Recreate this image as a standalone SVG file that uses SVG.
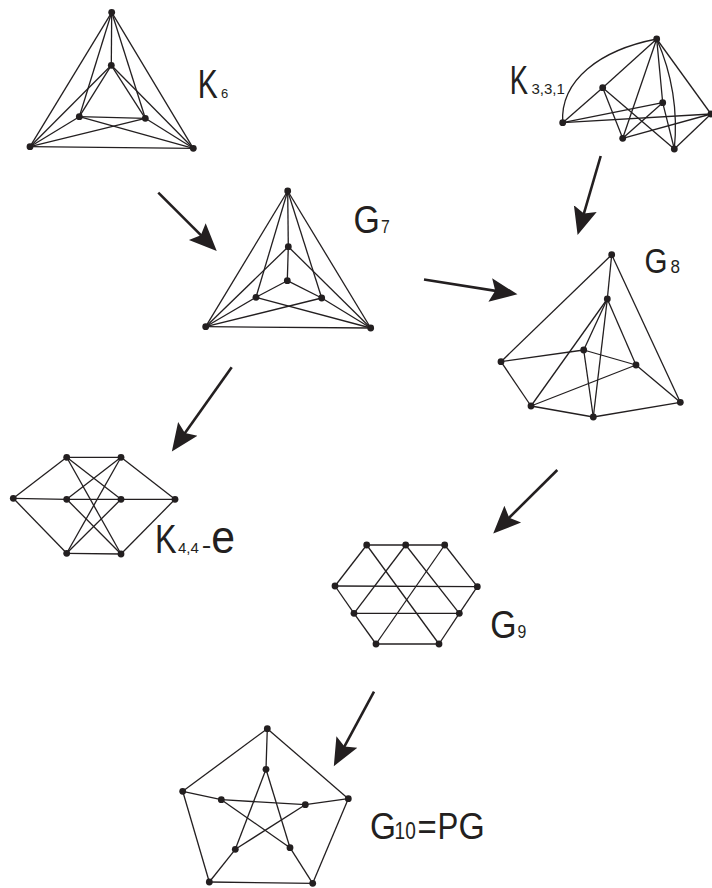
<svg xmlns="http://www.w3.org/2000/svg" width="712" height="888" viewBox="0 0 712 888">
<style>
.e{stroke:#231f20;stroke-width:1.3;fill:none}
.n{fill:#231f20}
.t{font-family:"Liberation Sans",Arial,sans-serif;fill:#231f20}
.a{stroke:#231f20;stroke-width:2.6;fill:none}
</style>
<defs>
<marker id="ah" markerUnits="userSpaceOnUse" markerWidth="30" markerHeight="30" viewBox="0 -12 24 24" refX="12" refY="0" orient="auto">
<path d="M0,-9.5 L22,0 L0,9.5 L4,0 Z" fill="#231f20"/>
</marker>
</defs>
<rect width="712" height="888" fill="#fff"/>

<g id="K6">
<g class="e">
<line x1="111.7" y1="12.3" x2="111.3" y2="65.3"/>
<line x1="111.7" y1="12.3" x2="79.3" y2="116.7"/>
<line x1="111.7" y1="12.3" x2="145.3" y2="118.3"/>
<line x1="111.7" y1="12.3" x2="30" y2="146.7"/>
<line x1="111.7" y1="12.3" x2="193.3" y2="148.3"/>
<line x1="111.3" y1="65.3" x2="79.3" y2="116.7"/>
<line x1="111.3" y1="65.3" x2="145.3" y2="118.3"/>
<line x1="111.3" y1="65.3" x2="30" y2="146.7"/>
<line x1="111.3" y1="65.3" x2="193.3" y2="148.3"/>
<line x1="79.3" y1="116.7" x2="145.3" y2="118.3"/>
<line x1="79.3" y1="116.7" x2="30" y2="146.7"/>
<line x1="79.3" y1="116.7" x2="193.3" y2="148.3"/>
<line x1="145.3" y1="118.3" x2="30" y2="146.7"/>
<line x1="145.3" y1="118.3" x2="193.3" y2="148.3"/>
<line x1="30" y1="146.7" x2="193.3" y2="148.3"/>
</g>
<g class="n">
<circle cx="111.7" cy="12.3" r="3.4"/><circle cx="111.3" cy="65.3" r="3.4"/>
<circle cx="79.3" cy="116.7" r="3.4"/><circle cx="145.3" cy="118.3" r="3.4"/>
<circle cx="30" cy="146.7" r="3.4"/><circle cx="193.3" cy="148.3" r="3.4"/>
</g>
<text class="t" font-size="41" transform="translate(197.8,97.7) scale(0.731,1)">K</text>
<text class="t" font-size="13" x="221" y="97.7">6</text>
</g>

<g id="K331">
<g class="e">
<path d="M562.7,122.7 C560,80 600,50 656.7,39"/>
<path d="M656.7,39 Q680,92 674.3,149"/>
<line x1="656.7" y1="39" x2="602.7" y2="87.7"/>
<line x1="656.7" y1="39" x2="662.7" y2="102.7"/>
<line x1="656.7" y1="39" x2="622.7" y2="138.3"/>
<line x1="656.7" y1="39" x2="711" y2="114"/>
<line x1="562.7" y1="122.7" x2="602.7" y2="87.7"/>
<line x1="562.7" y1="122.7" x2="662.7" y2="102.7"/>
<line x1="562.7" y1="122.7" x2="711" y2="114"/>
<line x1="622.7" y1="138.3" x2="602.7" y2="87.7"/>
<line x1="622.7" y1="138.3" x2="662.7" y2="102.7"/>
<line x1="622.7" y1="138.3" x2="711" y2="114"/>
<line x1="674.3" y1="149" x2="602.7" y2="87.7"/>
<line x1="674.3" y1="149" x2="662.7" y2="102.7"/>
<line x1="674.3" y1="149" x2="711" y2="114"/>
</g>
<g class="n">
<circle cx="656.7" cy="39" r="3.4"/><circle cx="602.7" cy="87.7" r="3.4"/>
<circle cx="662.7" cy="102.7" r="3.4"/><circle cx="562.7" cy="122.7" r="3.4"/>
<circle cx="622.7" cy="138.3" r="3.4"/><circle cx="674.3" cy="149" r="3.4"/>
<circle cx="711" cy="114" r="3.4"/>
</g>
<text class="t" font-size="41" transform="translate(509.7,94) scale(0.669,1)">K</text>
<text class="t" font-size="15" x="531.5" y="94">3,3,1</text>
</g>

<g id="G7">
<g class="e">
<line x1="287.7" y1="191" x2="288.3" y2="246.7"/>
<line x1="288.3" y1="246.7" x2="287.3" y2="280.7"/>
<line x1="287.7" y1="191" x2="256" y2="297.3"/>
<line x1="287.7" y1="191" x2="321.7" y2="298"/>
<line x1="287.7" y1="191" x2="205.7" y2="326.7"/>
<line x1="287.7" y1="191" x2="370.7" y2="328"/>
<line x1="288.3" y1="246.7" x2="205.7" y2="326.7"/>
<line x1="288.3" y1="246.7" x2="370.7" y2="328"/>
<line x1="287.3" y1="280.7" x2="256" y2="297.3"/>
<line x1="287.3" y1="280.7" x2="321.7" y2="298"/>
<line x1="256" y1="297.3" x2="370.7" y2="328"/>
<line x1="321.7" y1="298" x2="205.7" y2="326.7"/>
<line x1="256" y1="297.3" x2="205.7" y2="326.7"/>
<line x1="321.7" y1="298" x2="370.7" y2="328"/>
<line x1="205.7" y1="326.7" x2="370.7" y2="328"/>
</g>
<g class="n">
<circle cx="287.7" cy="191" r="3.4"/><circle cx="288.3" cy="246.7" r="3.4"/>
<circle cx="287.3" cy="280.7" r="3.4"/><circle cx="256" cy="297.3" r="3.4"/>
<circle cx="321.7" cy="298" r="3.4"/><circle cx="205.7" cy="326.7" r="3.4"/>
<circle cx="370.7" cy="328" r="3.4"/>
</g>
<text class="t" font-size="38" transform="translate(353.4,233) scale(0.89,1)">G</text>
<text class="t" font-size="18.5" transform="translate(380.9,233) scale(0.855,1)">7</text>
</g>

<g id="G8">
<g class="e">
<line x1="611.7" y1="254.7" x2="501" y2="361.7"/>
<line x1="611.7" y1="254.7" x2="607.3" y2="299"/>
<line x1="611.7" y1="254.7" x2="680.3" y2="402.3"/>
<line x1="607.3" y1="299" x2="531" y2="406"/>
<line x1="607.3" y1="299" x2="583.7" y2="350"/>
<line x1="607.3" y1="299" x2="593.3" y2="417"/>
<line x1="607.3" y1="299" x2="636" y2="365"/>
<line x1="501" y1="361.7" x2="583.7" y2="350"/>
<line x1="501" y1="361.7" x2="531" y2="406"/>
<line x1="583.7" y1="350" x2="636" y2="365"/>
<line x1="583.7" y1="350" x2="593.3" y2="417"/>
<line x1="531" y1="406" x2="636" y2="365"/>
<line x1="531" y1="406" x2="593.3" y2="417"/>
<line x1="593.3" y1="417" x2="680.3" y2="402.3"/>
<line x1="636" y1="365" x2="680.3" y2="402.3"/>
</g>
<g class="n">
<circle cx="611.7" cy="254.7" r="3.4"/><circle cx="607.3" cy="299" r="3.4"/>
<circle cx="583.7" cy="350" r="3.4"/><circle cx="636" cy="365" r="3.4"/>
<circle cx="501" cy="361.7" r="3.4"/><circle cx="531" cy="406" r="3.4"/>
<circle cx="593.3" cy="417" r="3.4"/><circle cx="680.3" cy="402.3" r="3.4"/>
</g>
<text class="t" font-size="35" transform="translate(644.4,273) scale(0.845,1)">G</text>
<text class="t" font-size="18.5" transform="translate(670.5,273) scale(0.923,1)">8</text>
</g>

<g id="K44e">
<g class="e">
<line x1="13.3" y1="498.3" x2="66.7" y2="457.3"/>
<line x1="13.3" y1="498.3" x2="66.7" y2="499.3"/>
<line x1="13.3" y1="498.3" x2="66.7" y2="553.3"/>
<line x1="175" y1="499.3" x2="121" y2="457.3"/>
<line x1="175" y1="499.3" x2="121" y2="499.3"/>
<line x1="175" y1="499.3" x2="121" y2="554"/>
<line x1="66.7" y1="457.3" x2="121" y2="457.3"/>
<line x1="66.7" y1="457.3" x2="121" y2="499.3"/>
<line x1="66.7" y1="457.3" x2="121" y2="554"/>
<line x1="66.7" y1="499.3" x2="121" y2="457.3"/>
<line x1="66.7" y1="499.3" x2="121" y2="499.3"/>
<line x1="66.7" y1="499.3" x2="121" y2="554"/>
<line x1="66.7" y1="553.3" x2="121" y2="457.3"/>
<line x1="66.7" y1="553.3" x2="121" y2="499.3"/>
<line x1="66.7" y1="553.3" x2="121" y2="554"/>
</g>
<g class="n">
<circle cx="13.3" cy="498.3" r="3.4"/><circle cx="66.7" cy="457.3" r="3.4"/>
<circle cx="66.7" cy="499.3" r="3.4"/><circle cx="66.7" cy="553.3" r="3.4"/>
<circle cx="121" cy="457.3" r="3.4"/><circle cx="121" cy="499.3" r="3.4"/>
<circle cx="121" cy="554" r="3.4"/><circle cx="175" cy="499.3" r="3.4"/>
</g>
<text class="t" font-size="41" transform="translate(154.9,552.7) scale(0.79,1)">K</text>
<text class="t" font-size="15" x="178" y="552.7">4,4</text>
<text class="t" font-size="24" transform="translate(201.7,552.7) scale(1.2,1)">-</text>
<text class="t" font-size="46" transform="translate(211.3,552.7) scale(0.93,1)">e</text>
</g>

<g id="G9">
<g class="e">
<line x1="366.7" y1="545" x2="405.7" y2="545"/>
<line x1="405.7" y1="545" x2="444.7" y2="545"/>
<line x1="366.7" y1="545" x2="335" y2="586"/>
<line x1="444.7" y1="545" x2="477.3" y2="586.7"/>
<line x1="335" y1="586" x2="477.3" y2="586.7"/>
<line x1="354" y1="613.3" x2="459.3" y2="613.3"/>
<line x1="376" y1="644" x2="439" y2="644"/>
<line x1="335" y1="586" x2="354" y2="613.3"/>
<line x1="354" y1="613.3" x2="376" y2="644"/>
<line x1="477.3" y1="586.7" x2="459.3" y2="613.3"/>
<line x1="459.3" y1="613.3" x2="439" y2="644"/>
<line x1="366.7" y1="545" x2="439" y2="644"/>
<line x1="405.7" y1="545" x2="354" y2="613.3"/>
<line x1="405.7" y1="545" x2="459.3" y2="613.3"/>
<line x1="444.7" y1="545" x2="376" y2="644"/>
</g>
<g class="n">
<circle cx="366.7" cy="545" r="3.4"/><circle cx="405.7" cy="545" r="3.4"/>
<circle cx="444.7" cy="545" r="3.4"/><circle cx="335" cy="586" r="3.4"/>
<circle cx="477.3" cy="586.7" r="3.4"/><circle cx="354" cy="613.3" r="3.4"/>
<circle cx="459.3" cy="613.3" r="3.4"/><circle cx="376" cy="644" r="3.4"/>
<circle cx="439" cy="644" r="3.4"/>
</g>
<text class="t" font-size="38" transform="translate(490.2,638) scale(0.89,1)">G</text>
<text class="t" font-size="18.5" transform="translate(517.6,638) scale(0.855,1)">9</text>
</g>

<g id="PG">
<g class="e">
<line x1="267.3" y1="728.7" x2="182.7" y2="791.3"/>
<line x1="267.3" y1="728.7" x2="348.3" y2="798.7"/>
<line x1="182.7" y1="791.3" x2="209.3" y2="882"/>
<line x1="348.3" y1="798.7" x2="312.7" y2="883.3"/>
<line x1="209.3" y1="882" x2="312.7" y2="883.3"/>
<line x1="267.3" y1="728.7" x2="266" y2="769.3"/>
<line x1="182.7" y1="791.3" x2="221.3" y2="799.7"/>
<line x1="348.3" y1="798.7" x2="305.3" y2="804.7"/>
<line x1="209.3" y1="882" x2="235.3" y2="849.3"/>
<line x1="312.7" y1="883.3" x2="290" y2="847.7"/>
<line x1="266" y1="769.3" x2="235.3" y2="849.3"/>
<line x1="266" y1="769.3" x2="290" y2="847.7"/>
<line x1="221.3" y1="799.7" x2="305.3" y2="804.7"/>
<line x1="221.3" y1="799.7" x2="290" y2="847.7"/>
<line x1="305.3" y1="804.7" x2="235.3" y2="849.3"/>
</g>
<g class="n">
<circle cx="267.3" cy="728.7" r="3.4"/><circle cx="182.7" cy="791.3" r="3.4"/>
<circle cx="348.3" cy="798.7" r="3.4"/><circle cx="209.3" cy="882" r="3.4"/>
<circle cx="312.7" cy="883.3" r="3.4"/><circle cx="266" cy="769.3" r="3.4"/>
<circle cx="221.3" cy="799.7" r="3.4"/><circle cx="305.3" cy="804.7" r="3.4"/>
<circle cx="235.3" cy="849.3" r="3.4"/><circle cx="290" cy="847.7" r="3.4"/>
</g>
<text class="t" font-size="37.5" transform="translate(370,839) scale(0.891,1)">G</text>
<text class="t" font-size="23" transform="translate(394.6,839) scale(0.829,1)">10</text>
<text class="t" font-size="37.5" transform="translate(417.4,839) scale(0.877,1)">=</text>
<text class="t" font-size="37.5" transform="translate(437.5,839) scale(0.832,1)">P</text>
<text class="t" font-size="37.5" transform="translate(458.4,839) scale(0.901,1)">G</text>
</g>

<g id="connectors">
<line class="a" x1="158.3" y1="192.7" x2="207.9" y2="242.2" marker-end="url(#ah)"/>
<line class="a" x1="424" y1="279.5" x2="505.1" y2="292.4" marker-end="url(#ah)"/>
<line class="a" x1="600.7" y1="156" x2="581.1" y2="223.1" marker-end="url(#ah)"/>
<line class="a" x1="231.7" y1="367.3" x2="179.1" y2="441.2" marker-end="url(#ah)"/>
<line class="a" x1="557.3" y1="470" x2="502.1" y2="524.7" marker-end="url(#ah)"/>
<line class="a" x1="374" y1="691.7" x2="339.75" y2="755.2" marker-end="url(#ah)"/>
</g>
</svg>
